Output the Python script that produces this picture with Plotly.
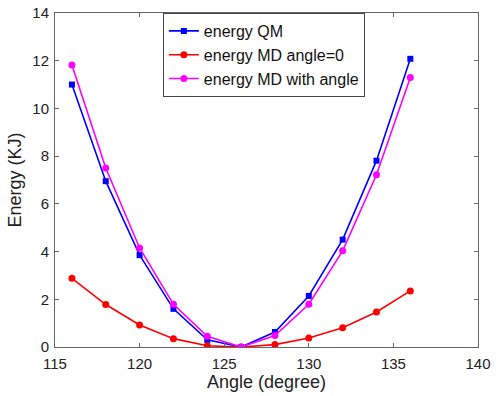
import plotly.graph_objects as go

angles = [116, 118, 120, 122, 124, 126, 128, 130, 132, 134, 136]
energy_qm = [11.0, 6.95, 3.85, 1.6, 0.3, 0.0, 0.63, 2.14, 4.5, 7.81, 12.08]
energy_md0 = [2.88, 1.78, 0.92, 0.35, 0.05, 0.0, 0.1, 0.38, 0.81, 1.47, 2.35]
energy_md_angle = [11.82, 7.5, 4.15, 1.79, 0.45, 0.0, 0.48, 1.79, 4.03, 7.22, 11.3]

names = ["energy QM", "energy MD angle=0", "energy MD with angle"]
colors = ["#0000ff", "#ff0000", "#ff00ff"]
symbols = ["square", "circle", "circle"]

fig = go.Figure()
for name, ys, c, s in zip(names, [energy_qm, energy_md0, energy_md_angle], colors, symbols):
    fig.add_trace(go.Scatter(
        x=angles, y=ys, name=name, mode="lines+markers",
        line=dict(color=c, width=1.6),
        marker=dict(color=c, symbol=s, size=7 if s == "circle" else 6),
    ))

axis_common = dict(
    showline=True, linecolor="#666666", linewidth=1, mirror="ticks",
    ticks="inside", ticklen=4, tickcolor="#666666",
    showgrid=False, zeroline=False, automargin=False,
    tickfont=dict(family="Liberation Sans, Arial", size=15, color="#222222"),
)

fig.update_layout(
    width=496, height=396,
    margin=dict(l=55, r=18, t=13, b=49),
    paper_bgcolor="white", plot_bgcolor="white",
    font=dict(family="Liberation Sans, Arial", color="#222222"),
    xaxis=dict(range=[115, 140], tickvals=[115, 120, 125, 130, 135, 140],
               ticklabelstandoff=3,
               title=dict(text="Angle (degree)", font=dict(size=18), standoff=4),
               **axis_common),
    yaxis=dict(range=[0, 14], tickvals=[0, 2, 4, 6, 8, 10, 12, 14],
               ticklabelstandoff=2,
               title=dict(text="Energy (KJ)", font=dict(size=18), standoff=6),
               **axis_common),
    legend=dict(x=0.255, y=1.0, xanchor="left", yanchor="top",
                bgcolor="white", bordercolor="#444444", borderwidth=1,
                font=dict(size=16, color="#111111"),
                tracegroupgap=0, itemwidth=30),
    showlegend=True,
)

fig.write_html("out.html")
